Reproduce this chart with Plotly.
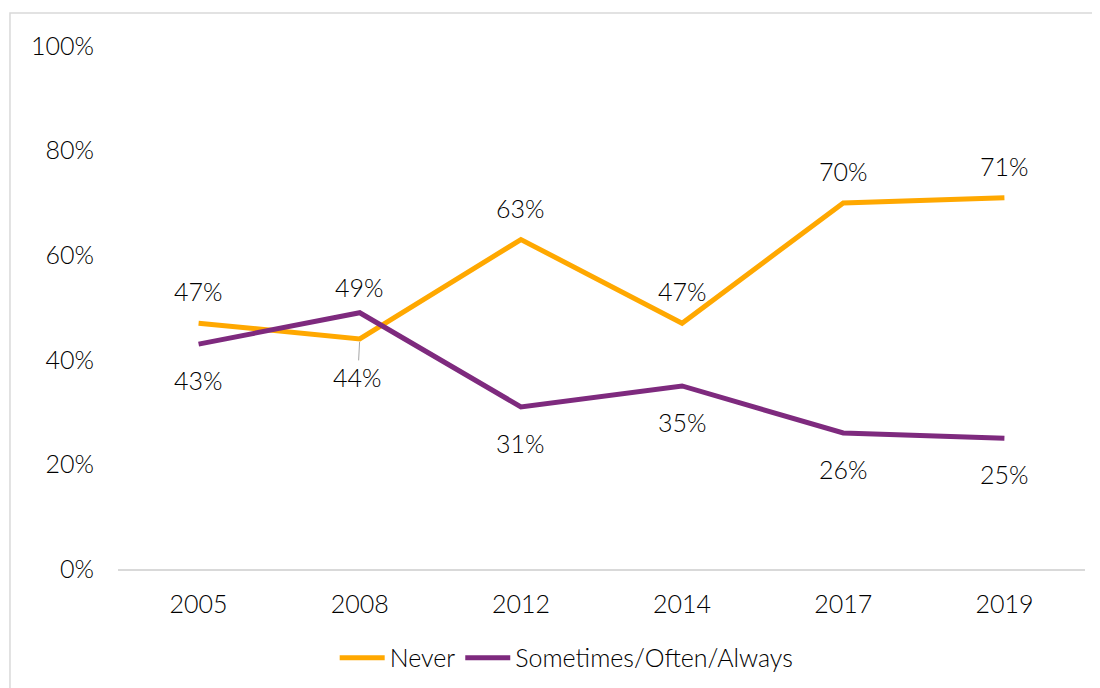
import plotly.graph_objects as go

years = ["2005", "2008", "2012", "2014", "2017", "2019"]
never = [0.47, 0.44, 0.63, 0.47, 0.70, 0.71]
sometimes = [0.43, 0.49, 0.31, 0.35, 0.26, 0.25]
never_label_pos = ["above", "below", "above", "above", "above", "above"]
some_label_pos = ["below", "above", "below", "below", "below", "below"]

C_NEVER = "#FFA800"
C_SOME = "#7E2A7E"
FONT = "Lato, 'Open Sans', sans-serif"
FS = 25
FW = 300

xi = list(range(len(years)))

fig = go.Figure()
fig.add_trace(go.Scatter(x=xi, y=never, mode="lines", name="Never",
                         line=dict(color=C_NEVER, width=5)))
fig.add_trace(go.Scatter(x=xi, y=sometimes, mode="lines", name="Sometimes/Often/Always",
                         line=dict(color=C_SOME, width=5)))

annotations = []
for series, vals, poss in (("never", never, never_label_pos), ("some", sometimes, some_label_pos)):
    for x, v, p in zip(xi, vals, poss):
        txt = f"{round(v*100)}%"
        lbl_font = dict(family=FONT, size=FS, color="#000", weight=FW)
        if series == "never" and p == "below":
            annotations.append(dict(x=x, y=v, text=txt, showarrow=True, arrowhead=0,
                                    arrowwidth=1, arrowcolor="#A6A6A6", ax=-2, ay=38,
                                    standoff=3, font=lbl_font))
        else:
            shift = 32 if p == "above" else -36
            if series == "some" and p == "above":
                shift = 26
            annotations.append(dict(x=x, y=v, text=txt, showarrow=False, yshift=shift,
                                    font=lbl_font))

fig.update_layout(
    width=1100, height=688,
    margin=dict(l=110, r=23, t=38, b=127),
    paper_bgcolor="white", plot_bgcolor="white",
    font=dict(family=FONT, size=FS, color="#000", weight=FW),
    showlegend=True,
    legend=dict(orientation="h", x=0.464, xanchor="center", y=-0.17, yanchor="middle",
                itemwidth=45, tracegroupgap=0,
                font=dict(family=FONT, size=FS, color="#000", weight=FW)),
    annotations=annotations,
    shapes=[dict(type="rect", xref="paper", yref="paper", x0=-0.1117, x1=1.05,
                 y0=-0.3, y1=1.063, line=dict(color="#D9D9D9", width=1.5),
                 fillcolor="rgba(0,0,0,0)", layer="below")],
)
fig.update_xaxes(range=[-0.5, len(years) - 0.5], tickvals=xi, ticktext=years,
                 showline=True, linecolor="#D9D9D9", linewidth=2,
                 showgrid=False, ticks="", ticklabelstandoff=12, zeroline=False)
fig.update_yaxes(range=[0, 1], tickvals=[0, 0.2, 0.4, 0.6, 0.8, 1.0], tickformat=".0%",
                 showgrid=False, zeroline=False, showline=False, ticks="",
                 ticklabelstandoff=23)

fig.write_html("out.html")
